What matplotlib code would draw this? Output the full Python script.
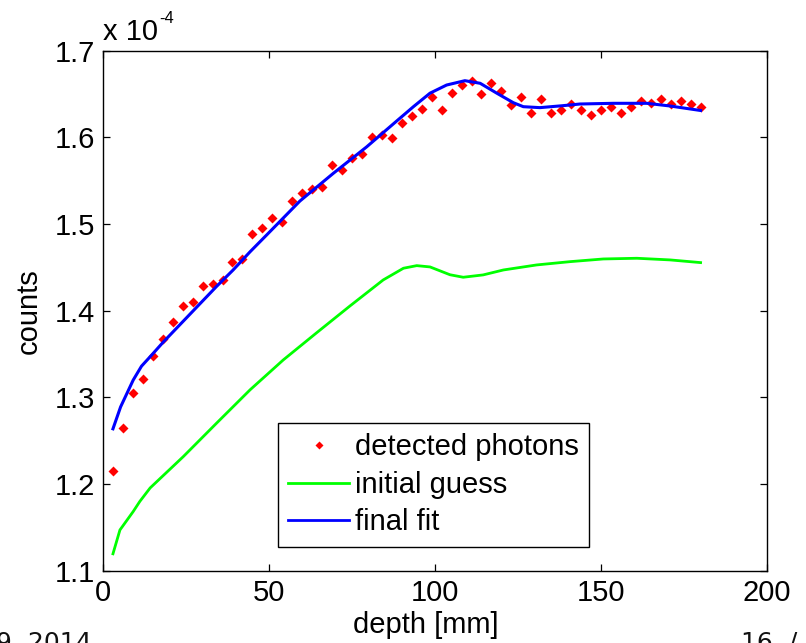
import matplotlib
matplotlib.use('Agg')
import matplotlib.pyplot as plt
from matplotlib.lines import Line2D

# ---- data (counts in units of 1e-4) ----
depth_obs = list(range(3, 181, 3))
counts_obs = [1.2156, 1.265, 1.3055, 1.321, 1.348, 1.367, 1.387, 1.405, 1.410, 1.428,
              1.431, 1.435, 1.456, 1.460, 1.488, 1.495, 1.507, 1.502, 1.527, 1.536,
              1.541, 1.543, 1.568, 1.562, 1.576, 1.581, 1.600, 1.603, 1.599, 1.617,
              1.625, 1.633, 1.647, 1.631, 1.651, 1.660, 1.665, 1.650, 1.663, 1.654,
              1.637, 1.647, 1.628, 1.644, 1.628, 1.631, 1.638, 1.631, 1.626, 1.631,
              1.635, 1.628, 1.635, 1.642, 1.640, 1.644, 1.6385, 1.642, 1.6385, 1.635]

depth_guess = [3, 5.1, 9.1, 11.1, 14.2, 24.2, 34.2, 44.3, 54.3, 64.4, 74.4, 84.4, 90.5,
               94.5, 98.5, 101.5, 104.5, 108.5, 114.5, 120.6, 130.6, 140.7, 150.7,
               160.8, 170.8, 180]
counts_guess = [1.1195, 1.147, 1.1683, 1.18, 1.1955, 1.2317, 1.2702, 1.3087, 1.3432,
                1.3747, 1.4055, 1.4355, 1.449, 1.452, 1.4505, 1.446, 1.4415, 1.4386,
                1.4413, 1.447, 1.4528, 1.4566, 1.4597, 1.4605, 1.4586, 1.4555]

depth_fit = [3, 5.3, 9.1, 11.6, 14.7, 18.2, 24.2, 29.2, 34.2, 39.2, 44.3, 49.3, 59.3,
             69.4, 79.4, 88.5, 93.5, 98.5, 103.5, 109, 113.6, 118.6, 123.6, 126.6,
             131.6, 138.6, 143.7, 153.7, 163.8, 170.8, 180]
counts_fit = [1.2637, 1.289, 1.320, 1.336, 1.349, 1.364, 1.388, 1.408, 1.428, 1.447,
              1.468, 1.4874, 1.5265, 1.5586, 1.589, 1.619, 1.6354, 1.651, 1.6604,
              1.6654, 1.6624, 1.651, 1.640, 1.6354, 1.6343, 1.6366, 1.6385, 1.6393,
              1.6393, 1.6362, 1.631]

x_ticks = [0, 50, 100, 150, 200]
y_ticks = [1.1, 1.2, 1.3, 1.4, 1.5, 1.6, 1.7]
legend_labels = ['detected photons', 'initial guess', 'final fit']

plt.rcParams['font.family'] = ['Liberation Sans', 'DejaVu Sans']
FS = 21

W, H = 806, 643
fig = plt.figure(figsize=(W / 100, H / 100), dpi=100)
ax = fig.add_axes([103 / W, 1 - 570.7 / H, (767 - 103) / W, (570.7 - 50.7) / H])

ax.plot(depth_obs, counts_obs, 'D', color='red', ms=4.8, mec='none', zorder=2)
ax.plot(depth_guess, counts_guess, color='#00ff00', lw=2.0, zorder=3)
ax.plot(depth_fit, counts_fit, color='#0000ff', lw=2.2, zorder=4)

ax.set_xlim(0, 200)
ax.set_ylim(1.1, 1.7)
ax.set_xticks(x_ticks)
ax.set_yticks(y_ticks)
ax.set_xticklabels([str(t) for t in x_ticks])
ax.set_yticklabels([f'{t:.1f}' for t in y_ticks])
ax.tick_params(direction='in', length=5, width=0.9, top=True, right=True,
               labelsize=FS, pad=6)
for s in ax.spines.values():
    s.set_linewidth(1.0)
    s.set_color('black')

ax.set_xlabel('depth [mm]', fontsize=FS, labelpad=3)
ax.xaxis.label.set_x(0.486)
ax.set_ylabel('counts', fontsize=FS, labelpad=8)

# axis multiplier, MATLAB style
fig.text(103 / W, 1 - 40 / H, 'x 10', ha='left', va='baseline', fontsize=FS)
fig.text(159 / W, 1 - 23 / H, '-4', ha='left', va='baseline', fontsize=12)

handles = [Line2D([], [], marker='D', ls='none', color='red', ms=3.6, mec='none'),
           Line2D([], [], color='#00ff00', lw=2.0),
           Line2D([], [], color='#0000ff', lw=2.0)]
leg = ax.legend(handles, legend_labels, loc='upper left',
                bbox_to_anchor=(278 / W, 1 - 423 / H), bbox_transform=fig.transFigure,
                borderaxespad=0, fontsize=FS, frameon=True, fancybox=False,
                framealpha=1, edgecolor='black', handlelength=2.1, handletextpad=0.2,
                labelspacing=0.33, borderpad=0.35)
leg.get_frame().set_linewidth(1.0)

# slide footer fragments (cut off by the image edge, as in the reference)
fig.text(92 / W, (H - 650) / H, '9. 2014', ha='right', va='baseline',
         fontsize=18, family='DejaVu Sans', color='#111111')
fig.text(741 / W, (H - 650) / H, '16  /', ha='left', va='baseline',
         fontsize=18, family='DejaVu Sans', color='#111111')

fig.savefig('out.png', dpi=100)
